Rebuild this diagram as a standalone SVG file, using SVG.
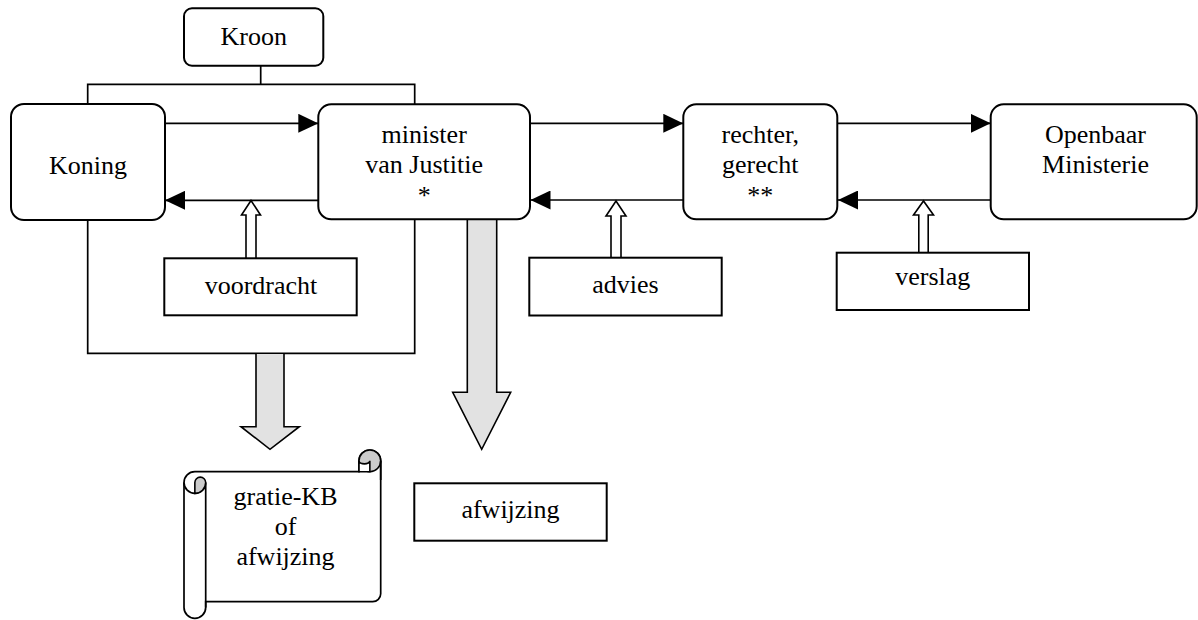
<svg xmlns="http://www.w3.org/2000/svg" width="1198" height="620" viewBox="0 0 1198 620">
<style>
.box{fill:#fff;stroke:#000;stroke-width:2}
.ln{fill:none;stroke:#000;stroke-width:1.7}
.arr{fill:none;stroke:#000;stroke-width:1.7;marker-end:url(#ah)}
.hollow{fill:#fff;stroke:#000;stroke-width:1.6;stroke-linejoin:miter}
.big{fill:#e2e2e2;stroke:#000;stroke-width:1.6}
.curl{fill:#cbcbcb;stroke:#000;stroke-width:1.6}
.t{font-family:"Liberation Serif","Times New Roman",serif;font-size:26px;text-anchor:middle;fill:#000}
</style>
<defs>
<marker id="ah" markerUnits="userSpaceOnUse" markerWidth="20" markerHeight="19" refX="20" refY="9.5" orient="auto">
<path d="M0,0 L20,9.5 L0,19 Z" fill="#000"/>
</marker>
</defs>
<g id="connectors">
<path class="ln" d="M260.7 65.7 V84.3 M87.7 104 V84.3 H414.7 V104"/>
<path class="ln" d="M87.7 220 V353.3 H414.7 V219.3"/>
<path class="arr" d="M165 123.3 H318.3"/>
<path class="arr" d="M318.3 200.3 H165"/>
<path class="arr" d="M530 123.3 H683.3"/>
<path class="arr" d="M683.3 200 H530.5"/>
<path class="arr" d="M837.3 123.3 H990.7"/>
<path class="arr" d="M990.7 200 H838"/>
<path class="hollow" d="M246 258.3 V215 H241.5 L251 200.5 L260.5 215 H256 V258.3"/>
<path class="hollow" d="M611 257.7 V216 H606 L616 201 L626 216 H621 V257.7"/>
<path class="hollow" d="M918.8 252.7 V215 H913.5 L923.5 201 L933.5 215 H928.2 V252.7"/>
<path class="big" d="M467.3 219.5 V392.3 H452.7 L481.7 449.3 L510.7 392.3 H496.7 V219.5"/>
<path class="big" d="M256 354 V426.7 H241 L270 449.3 L299.3 426.7 H284 V354"/>
</g>
<g id="kroon">
<rect class="box" x="184" y="8.3" width="139.3" height="57.4" rx="8"/>
<text class="t" x="253.7" y="45">Kroon</text>
</g>
<g id="koning">
<rect class="box" x="11" y="104" width="154" height="116" rx="13"/>
<text class="t" x="88" y="174">Koning</text>
</g>
<g id="minister">
<rect class="box" x="318.3" y="104.3" width="211.7" height="115" rx="13"/>
<text class="t" x="424.2" y="143.3">minister</text>
<text class="t" x="424.2" y="172.8">van Justitie</text>
<text class="t" x="424.2" y="204">*</text>
</g>
<g id="rechter">
<rect class="box" x="683.3" y="104.3" width="154" height="115" rx="13"/>
<text class="t" x="760.3" y="143.3">rechter,</text>
<text class="t" x="760.3" y="172.8">gerecht</text>
<text class="t" x="760.3" y="204">**</text>
</g>
<g id="om">
<rect class="box" x="990.7" y="104.3" width="206" height="115" rx="13"/>
<text class="t" x="1095.5" y="143.3">Openbaar</text>
<text class="t" x="1095.5" y="173">Ministerie</text>
</g>
<g id="voordracht">
<rect class="box" x="164.3" y="258.3" width="192.4" height="57" />
<text class="t" x="261" y="294">voordracht</text>
</g>
<g id="advies">
<rect class="box" x="529.3" y="257.7" width="192.4" height="57.8" />
<text class="t" x="625.5" y="293.3">advies</text>
</g>
<g id="verslag">
<rect class="box" x="836.7" y="252.7" width="192.3" height="57.3" />
<text class="t" x="932.8" y="285">verslag</text>
</g>
<g id="afwijzing">
<rect class="box" x="414.3" y="483.3" width="192.4" height="57.4" />
<text class="t" x="510.5" y="518.3">afwijzing</text>
</g>
<g id="gratie-kb">
<path class="box" style="stroke-width:1.7" d="M205.7 601.7 L372.7 601.7 A8 8 0 0 0 380.7 593.7 L380.7 460.85 A10.85 10.85 0 0 0 359 460.85 L359 471.7 L194.85 471.7 A10.85 10.85 0 0 0 184 482.55 L184 607.5 A10.85 10.85 0 0 0 205.7 607.5 Z"/>
<path class="ln" d="M184 482.55 A10.85 10.85 0 0 0 205.7 482.55 V607.5"/>
<path class="curl" d="M205.7 482.55 A5.425 5.425 0 0 0 194.85 482.55 L194.85 493.4 A10.85 10.85 0 0 0 205.7 482.55 Z"/>
<circle class="curl" cx="369.85" cy="460.85" r="10.85"/>
<path class="box" style="stroke-width:1.6" d="M359 471.7 L359 460.85 A5.425 3 0 0 0 369.85 460.85 L369.85 471.7 Z"/>
<path class="ln" d="M380.7 460.85 V480"/>
<text class="t" x="285.5" y="505">gratie-KB</text>
<text class="t" x="285.5" y="535">of</text>
<text class="t" x="285.5" y="565">afwijzing</text>
</g>
</svg>
